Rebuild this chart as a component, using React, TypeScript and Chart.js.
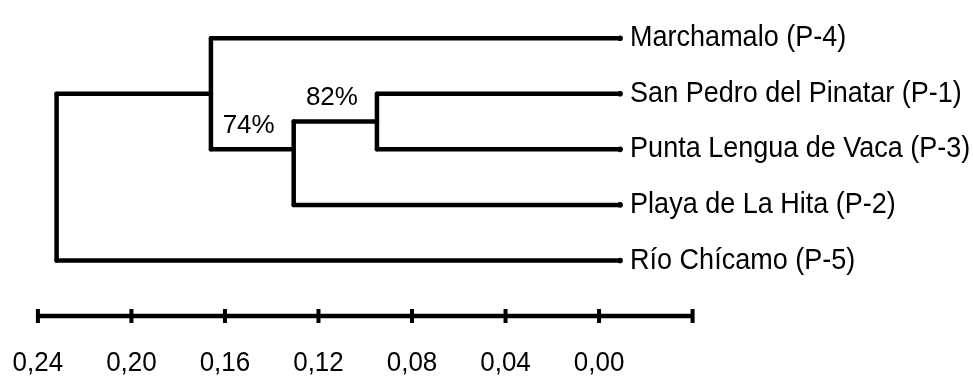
import React, { useEffect, useRef } from 'react';
import { Chart, registerables } from 'chart.js';

Chart.register(...registerables);

// ---- data ----
const leafNames = [
  'Marchamalo (P-4)',
  'San Pedro del Pinatar (P-1)',
  'Punta Lengua de Vaca (P-3)',
  'Playa de La Hita (P-2)',
  'Río Chícamo (P-5)',
];
const leafTip = -0.009; // tips as drawn against the scale bar
// merges (children: Lk = leaf k, Nk = merge k)
const mergeLeft = ['L1', 'N0', 'L0', 'N2'];
const mergeRight = ['L2', 'L3', 'N1', 'L4'];
const mergeHeights = [0.095, 0.1306, 0.166, 0.232];
const mergeRows = [1.5, 2.0, 1.0, 2.5];
const supportNodes = [0, 1];
const supportLabels = ['82%', '74%'];
const scaleTicks = [0.24, 0.2, 0.16, 0.12, 0.08, 0.04, 0.0, -0.04];
const scaleLabels = ['0,24', '0,20', '0,16', '0,12', '0,08', '0,04', '0,00', ''];
const scaleRow = 5;

const FONT = "'Liberation Sans', Arial, Helvetica, sans-serif";

function childInfo(ref: string) {
  const k = parseInt(ref.slice(1), 10);
  if (ref[0] === 'L') return { h: leafTip, row: k };
  return { h: mergeHeights[k], row: mergeRows[k] };
}

function buildSegments() {
  const segs: { x: number; y: number }[][] = [];
  for (let i = 0; i < mergeHeights.length; i++) {
    const h = mergeHeights[i];
    const a = childInfo(mergeLeft[i]);
    const b = childInfo(mergeRight[i]);
    segs.push([{ x: h, y: a.row }, { x: a.h, y: a.row }]);
    segs.push([{ x: h, y: b.row }, { x: b.h, y: b.row }]);
    segs.push([{ x: h, y: a.row }, { x: h, y: b.row }]);
  }
  return segs;
}

function tallText(ctx: any, text: string, x: number, y: number, sy: number) {
  ctx.save();
  ctx.translate(x, y);
  ctx.scale(1, sy);
  ctx.fillText(text, 0, 0);
  ctx.restore();
}

const textPlugin = {
  id: 'dendroText',
  afterDatasetsDraw(chart: any) {
    const ctx = chart.ctx;
    const xs = chart.scales.x;
    const ys = chart.scales.y;
    ctx.save();
    ctx.fillStyle = '#000';
    // leaf labels
    ctx.font = `27px ${FONT}`;
    ctx.textAlign = 'left';
    ctx.textBaseline = 'middle';
    leafNames.forEach((name, i) => {
      tallText(ctx, name, xs.getPixelForValue(leafTip) + 10, ys.getPixelForValue(i), 1.08);
    });
    // support values
    ctx.font = `26px ${FONT}`;
    ctx.textAlign = 'right';
    supportNodes.forEach((n, j) => {
      const a = childInfo(mergeLeft[n]);
      const b = childInfo(mergeRight[n]);
      const top = Math.min(a.row, b.row);
      ctx.fillText(supportLabels[j], xs.getPixelForValue(mergeHeights[n]) - 19, ys.getPixelForValue(top) + 4);
    });
    // scale labels
    ctx.font = `26px ${FONT}`;
    ctx.textAlign = 'center';
    scaleTicks.forEach((t, i) => {
      if (!scaleLabels[i]) return;
      tallText(ctx, scaleLabels[i], xs.getPixelForValue(t), ys.getPixelForValue(scaleRow) + 47, 1.05);
    });
    ctx.restore();
  },
};

export default function App() {
  const ref = useRef<HTMLCanvasElement | null>(null);
  useEffect(() => {
    if (!ref.current) return;
    const segs = buildSegments();
    const datasets: any[] = segs.map((s) => ({
      data: s,
      showLine: true,
      borderColor: '#000',
      borderWidth: 4.5,
      borderCapStyle: 'round',
      pointRadius: 0,
    }));
    datasets.push({
      data: leafNames.map((_, i) => ({ x: leafTip, y: i })),
      showLine: false,
      pointRadius: 2.8,
      pointBackgroundColor: '#000',
      pointBorderWidth: 0,
    });
    // scale bar
    datasets.push({
      data: [
        { x: scaleTicks[0], y: scaleRow },
        { x: scaleTicks[scaleTicks.length - 1], y: scaleRow },
      ],
      showLine: true,
      borderColor: '#000',
      borderWidth: 4.5,
      borderCapStyle: 'butt',
      pointRadius: 0,
    });
    scaleTicks.forEach((t) => {
      datasets.push({
        data: [
          { x: t, y: scaleRow - 0.125 },
          { x: t, y: scaleRow + 0.125 },
        ],
        showLine: true,
        borderColor: '#000',
        borderWidth: 4,
        borderCapStyle: 'butt',
        pointRadius: 0,
      });
    });
    const chart = new Chart(ref.current, {
      type: 'scatter',
      data: { datasets },
      options: {
        animation: false,
        responsive: true,
        maintainAspectRatio: false,
        events: [],
        layout: { padding: 0 },
        plugins: { legend: { display: false }, tooltip: { enabled: false } },
        scales: {
          x: { type: 'linear', display: false, reverse: true, min: -0.15822, max: 0.2545 },
          y: { type: 'linear', display: false, reverse: true, min: -0.6167, max: 6.044 },
        },
      },
      plugins: [textPlugin],
    });
    return () => chart.destroy();
  }, []);
  return (
    <div style={{ position: 'fixed', left: 0, top: 0, width: 973, height: 378, background: '#fff' }}>
      <canvas ref={ref} />
    </div>
  );
}
